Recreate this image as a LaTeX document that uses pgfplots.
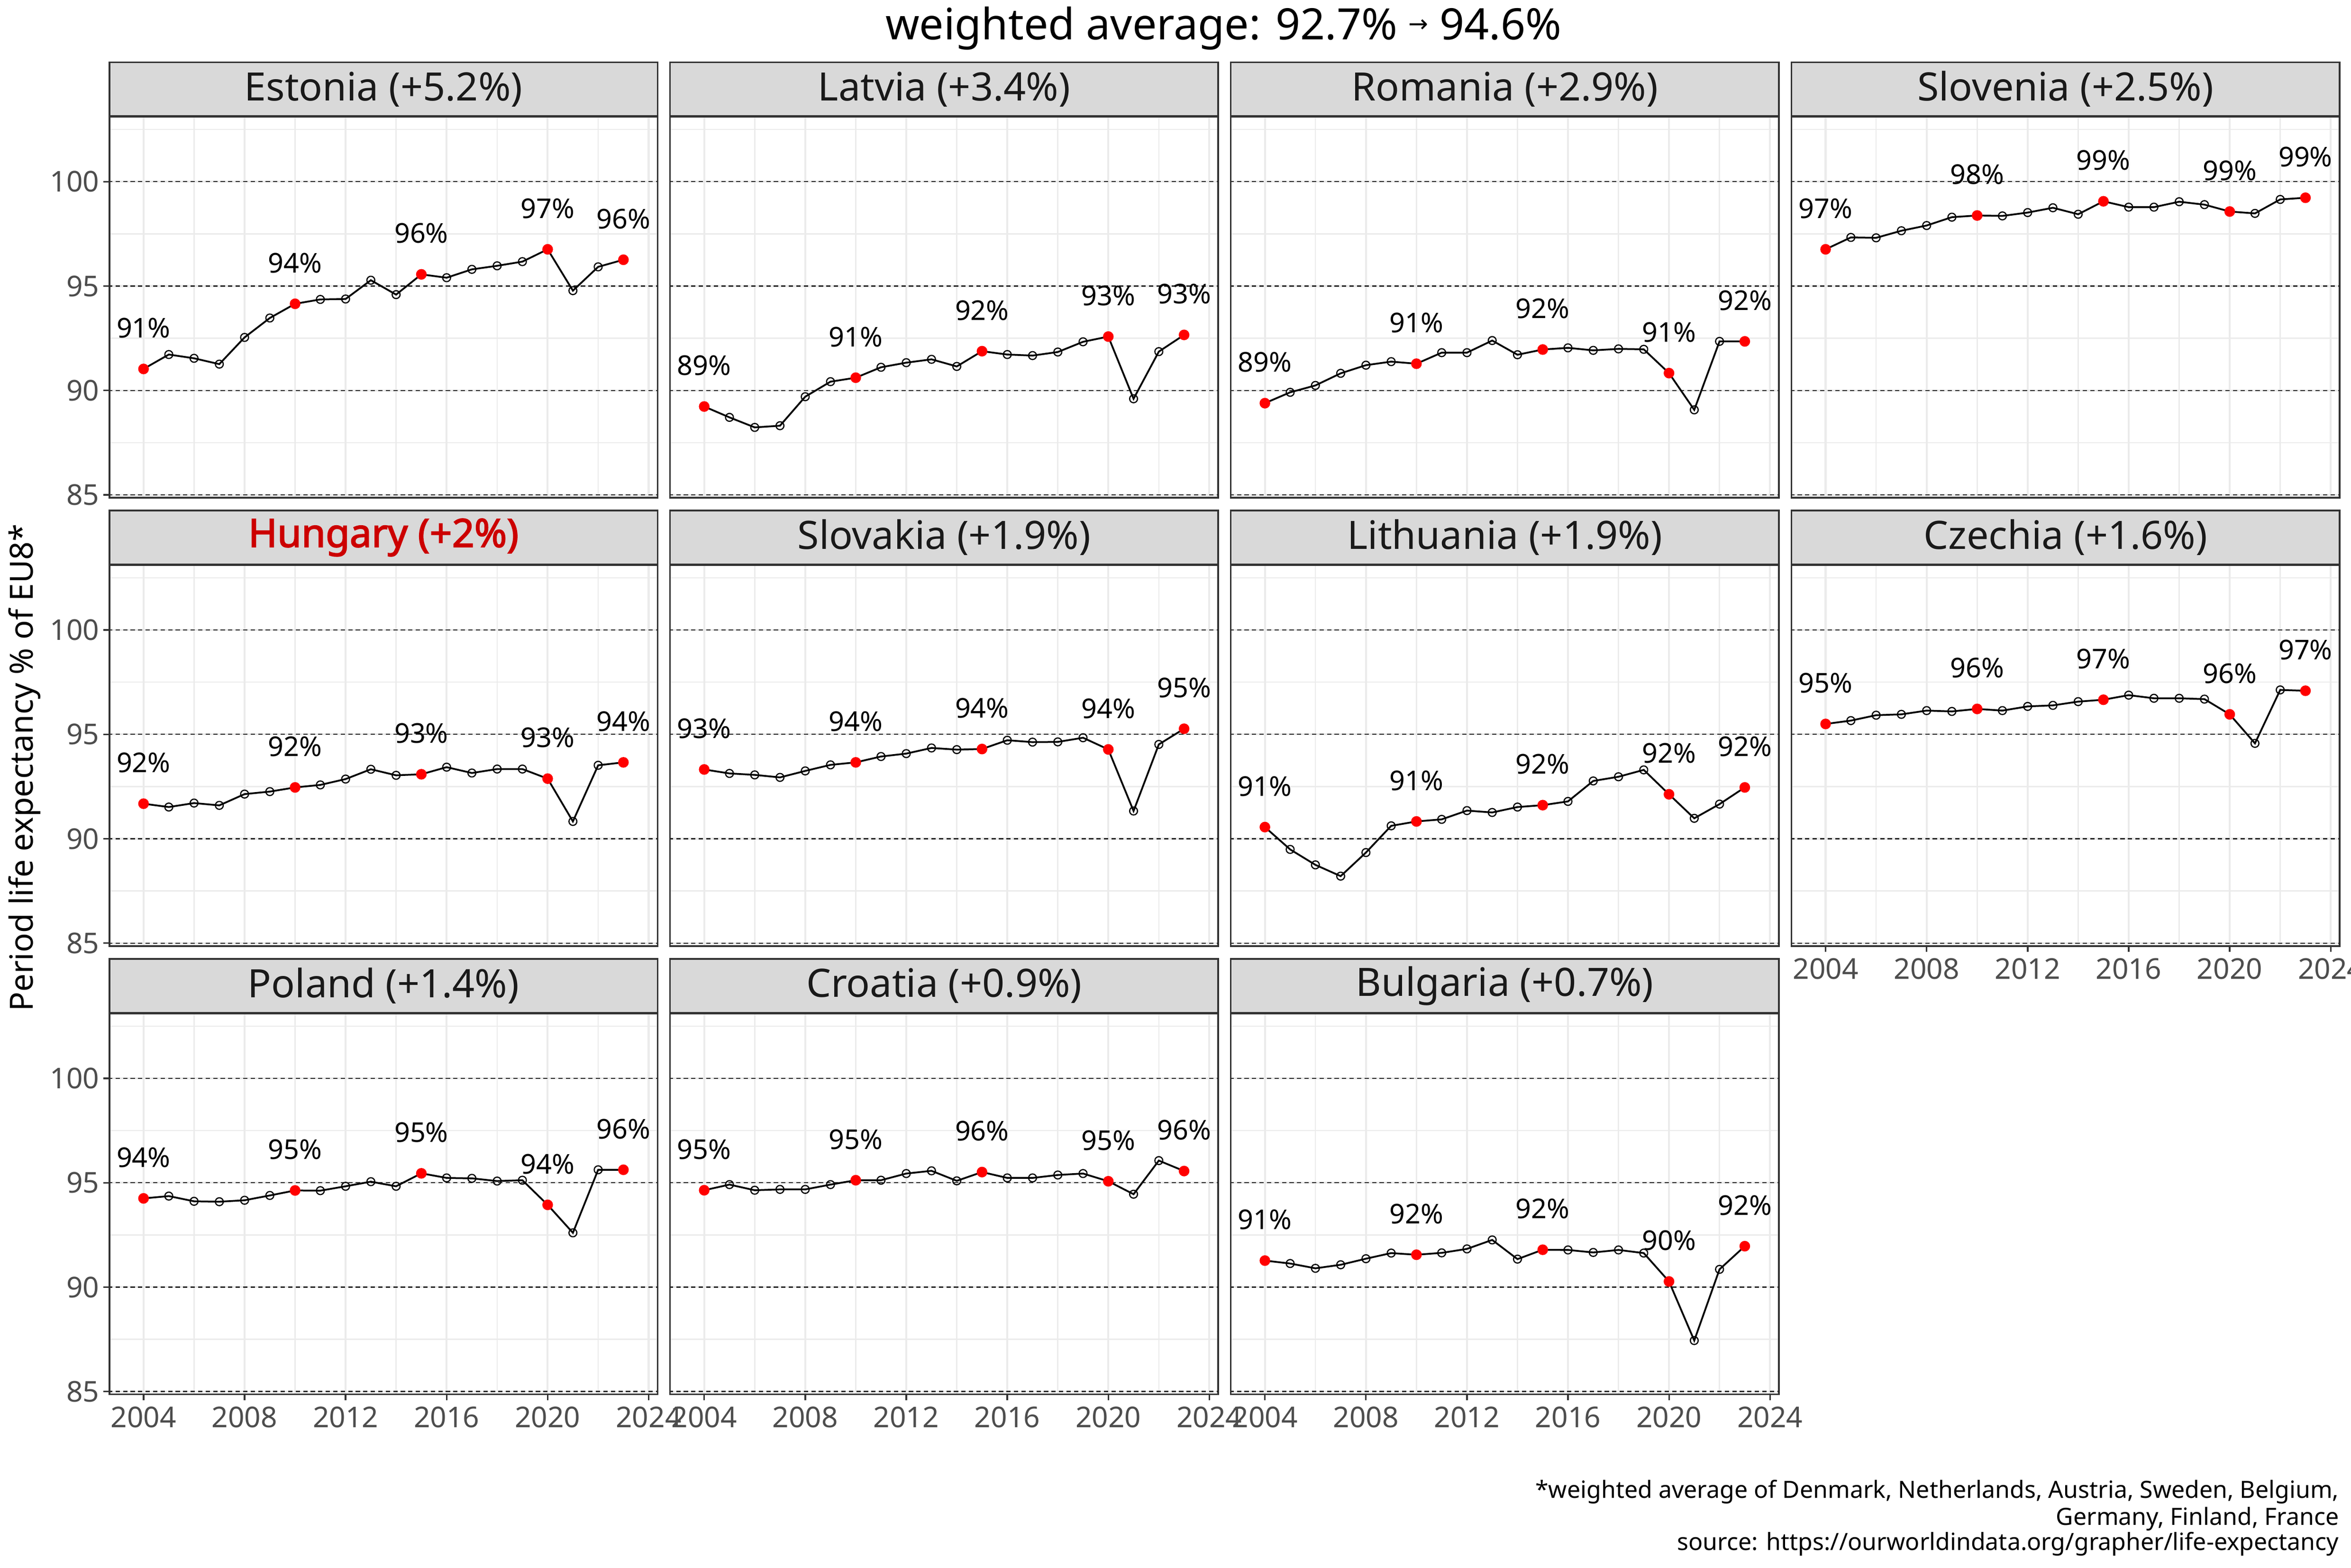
\documentclass[border=0pt]{standalone}
\usepackage{fontspec}
\setmainfont{Noto Sans}
\newfontfamily\djv{DejaVu Sans}
\newfontfamily\fbold{Noto Sans}[FakeBold=2.5]
\usepackage{pgfplots}
\pgfplotsset{compat=1.18}
\usepackage{pgfplotstable}

\definecolor{grey20}{HTML}{333333}
\definecolor{grey30}{HTML}{4D4D4D}
\definecolor{grey85}{HTML}{D9D9D9}
\definecolor{grey92}{HTML}{EBEBEB}
\definecolor{hured}{HTML}{CC0000}
\definecolor{ptred}{HTML}{FF0000}

\newcommand\tickfont{\fontsize{14.5bp}{17bp}\selectfont}
\newcommand\striptext{\fontsize{19.8bp}{23bp}\selectfont}
\newcommand\labtext{\fontsize{13.8bp}{16bp}\selectfont}

% ---------------- data ----------------
\pgfplotstableread{
year val
2004 91.03
2005 91.72
2006 91.54
2007 91.26
2008 92.54
2009 93.47
2010 94.15
2011 94.36
2012 94.38
2013 95.28
2014 94.59
2015 95.56
2016 95.40
2017 95.80
2018 95.97
2019 96.17
2020 96.76
2021 94.78
2022 95.92
2023 96.26
}\estonia
\pgfplotstableread{
year val lab
2004 91.03 91
2010 94.15 94
2015 95.56 96
2020 96.76 97
2023 96.26 96
}\estoniaR

\pgfplotstableread{
year val
2004 89.23
2005 88.71
2006 88.23
2007 88.31
2008 89.70
2009 90.42
2010 90.61
2011 91.11
2012 91.33
2013 91.49
2014 91.15
2015 91.88
2016 91.72
2017 91.67
2018 91.84
2019 92.33
2020 92.58
2021 89.60
2022 91.86
2023 92.66
}\latvia
\pgfplotstableread{
year val lab
2004 89.23 89
2010 90.61 91
2015 91.88 92
2020 92.58 93
2023 92.66 93
}\latviaR

\pgfplotstableread{
year val
2004 89.39
2005 89.91
2006 90.24
2007 90.82
2008 91.21
2009 91.38
2010 91.28
2011 91.81
2012 91.81
2013 92.39
2014 91.71
2015 91.96
2016 92.04
2017 91.92
2018 91.99
2019 91.97
2020 90.83
2021 89.07
2022 92.35
2023 92.35
}\romania
\pgfplotstableread{
year val lab
2004 89.39 89
2010 91.28 91
2015 91.96 92
2020 90.83 91
2023 92.35 92
}\romaniaR

\pgfplotstableread{
year val
2004 96.76
2005 97.33
2006 97.31
2007 97.65
2008 97.90
2009 98.30
2010 98.38
2011 98.36
2012 98.52
2013 98.75
2014 98.44
2015 99.06
2016 98.78
2017 98.78
2018 99.04
2019 98.90
2020 98.57
2021 98.48
2022 99.15
2023 99.23
}\slovenia
\pgfplotstableread{
year val lab
2004 96.76 97
2010 98.38 98
2015 99.06 99
2020 98.57 99
2023 99.23 99
}\sloveniaR

\pgfplotstableread{
year val
2004 91.68
2005 91.52
2006 91.71
2007 91.60
2008 92.14
2009 92.26
2010 92.46
2011 92.58
2012 92.86
2013 93.33
2014 93.04
2015 93.09
2016 93.43
2017 93.15
2018 93.34
2019 93.34
2020 92.88
2021 90.83
2022 93.52
2023 93.66
}\hungary
\pgfplotstableread{
year val lab
2004 91.68 92
2010 92.46 92
2015 93.09 93
2020 92.88 93
2023 93.66 94
}\hungaryR

\pgfplotstableread{
year val
2004 93.32
2005 93.13
2006 93.06
2007 92.94
2008 93.25
2009 93.54
2010 93.66
2011 93.94
2012 94.08
2013 94.35
2014 94.27
2015 94.30
2016 94.72
2017 94.63
2018 94.64
2019 94.84
2020 94.28
2021 91.33
2022 94.52
2023 95.27
}\slovakia
\pgfplotstableread{
year val lab
2004 93.32 93
2010 93.66 94
2015 94.30 94
2020 94.28 94
2023 95.27 95
}\slovakiaR

\pgfplotstableread{
year val
2004 90.56
2005 89.49
2006 88.75
2007 88.21
2008 89.34
2009 90.62
2010 90.83
2011 90.93
2012 91.35
2013 91.26
2014 91.52
2015 91.61
2016 91.79
2017 92.77
2018 92.97
2019 93.30
2020 92.13
2021 90.98
2022 91.66
2023 92.46
}\lithuania
\pgfplotstableread{
year val lab
2004 90.56 91
2010 90.83 91
2015 91.61 92
2020 92.13 92
2023 92.46 92
}\lithuaniaR

\pgfplotstableread{
year val
2004 95.50
2005 95.66
2006 95.92
2007 95.96
2008 96.14
2009 96.10
2010 96.22
2011 96.14
2012 96.34
2013 96.39
2014 96.57
2015 96.66
2016 96.88
2017 96.73
2018 96.73
2019 96.69
2020 95.96
2021 94.57
2022 97.13
2023 97.09
}\czechia
\pgfplotstableread{
year val lab
2004 95.50 95
2010 96.22 96
2015 96.66 97
2020 95.96 96
2023 97.09 97
}\czechiaR

\pgfplotstableread{
year val
2004 94.25
2005 94.36
2006 94.11
2007 94.09
2008 94.16
2009 94.39
2010 94.63
2011 94.62
2012 94.83
2013 95.05
2014 94.83
2015 95.45
2016 95.23
2017 95.21
2018 95.08
2019 95.12
2020 93.94
2021 92.60
2022 95.62
2023 95.62
}\poland
\pgfplotstableread{
year val lab
2004 94.25 94
2010 94.63 95
2015 95.45 95
2020 93.94 94
2023 95.62 96
}\polandR

\pgfplotstableread{
year val
2004 94.64
2005 94.91
2006 94.64
2007 94.68
2008 94.68
2009 94.91
2010 95.12
2011 95.12
2012 95.44
2013 95.57
2014 95.09
2015 95.51
2016 95.23
2017 95.23
2018 95.37
2019 95.44
2020 95.07
2021 94.45
2022 96.06
2023 95.56
}\croatia
\pgfplotstableread{
year val lab
2004 94.64 95
2010 95.12 95
2015 95.51 96
2020 95.07 95
2023 95.56 96
}\croatiaR

\pgfplotstableread{
year val
2004 91.27
2005 91.13
2006 90.90
2007 91.07
2008 91.36
2009 91.63
2010 91.55
2011 91.64
2012 91.83
2013 92.26
2014 91.34
2015 91.79
2016 91.78
2017 91.66
2018 91.78
2019 91.63
2020 90.27
2021 87.44
2022 90.85
2023 91.96
}\bulgaria
\pgfplotstableread{
year val lab
2004 91.27 91
2010 91.55 92
2015 91.79 92
2020 90.27 90
2023 91.96 92
}\bulgariaR

% ---------------- styles ----------------
\pgfplotsset{
  panel/.style={
    scale only axis, width=277.5bp, height=192.8bp, anchor=north west,
    xmin=2002.65, xmax=2024.35, ymin=84.86, ymax=103.1,
    xtick={2004,2008,2012,2016,2020,2024},
    minor xtick={2006,2010,2014,2018,2022},
    ytick={85,90,95,100}, minor ytick={87.5,92.5,97.5,102.5},
    xticklabels={}, yticklabels={},
    grid=both,
    major grid style={draw=grey92, line width=1.0bp},
    minor grid style={draw=grey92, line width=0.6bp},
    axis line style={draw=grey20, line width=0.8bp},
    tick align=outside, tick pos=left,
    major tick length=3bp, minor tick length=0pt,
    tick style={draw=grey20, line width=0.8bp},
    ticklabel style={font=\tickfont, text=grey30},
    xticklabel style={inner sep=0pt, yshift=-3bp},
    yticklabel style={inner sep=0pt, xshift=-2bp},
    every axis title/.style={at={(0.5,1)}, anchor=south, draw=grey20, fill=grey85,
      line width=0.8bp, minimum width=277.5bp, minimum height=27.33bp,
      inner sep=0pt, font=\striptext, text=black!90},
    unbounded coords=jump,
  },
  xlab/.style={xticklabels={2004,2008,2012,2016,2020,2024}},
  noxt/.style={xtick style={draw=none}},
  ylab/.style={yticklabels={85,90,95,100}},
  noyt/.style={ytick style={draw=none}},
  refline/.style={black!85, line width=0.55bp, dash pattern=on 2.2bp off 1.6bp, forget plot},
  seriesline/.style={black, line width=0.9bp, mark=o, mark size=2bp,
    mark options={line width=0.6bp, solid}},
  redpts/.style={only marks, mark=*, mark size=2.5bp, color=ptred,
    mark options={draw=ptred, fill=ptred},
    point meta=explicit symbolic,
    nodes near coords={\pgfplotspointmeta\%},
    nodes near coords style={font=\labtext, text=black, anchor=base,
      inner sep=0pt, yshift=15.8bp}},
}

\newcommand\facet[6]{%
\begin{axis}[panel, at={(#1bp,#2bp)}, title={#3}, #6]
\addplot[refline] coordinates {(2002,85) (2026,85) (2014,nan) (2002,90) (2026,90) (2014,nan) (2002,95) (2026,95) (2014,nan) (2002,100) (2026,100)};
\addplot[seriesline] table[x=year,y=val] {#4};
\addplot[redpts] table[x=year,y=val,meta=lab] {#5};
\end{axis}}

\begin{document}
\begin{tikzpicture}
\useasboundingbox (0bp,0bp) rectangle (1190.4bp,-793.7bp);

% row 1
\facet{55.42}{-59.22}{Estonia (+5.2\%)}{\estonia}{\estoniaR}{ylab, noxt}
\facet{339.3}{-59.22}{Latvia (+3.4\%)}{\latvia}{\latviaR}{noxt, noyt}
\facet{623.2}{-59.22}{Romania (+2.9\%)}{\romania}{\romaniaR}{noxt, noyt}
\facet{907.1}{-59.22}{Slovenia (+2.5\%)}{\slovenia}{\sloveniaR}{noxt, noyt}
% row 2
\facet{55.42}{-286.22}{{\fbold\textcolor{hured}{Hungary (+2\%)}}}{\hungary}{\hungaryR}{ylab, noxt}
\facet{339.3}{-286.22}{Slovakia (+1.9\%)}{\slovakia}{\slovakiaR}{noxt, noyt}
\facet{623.2}{-286.22}{Lithuania (+1.9\%)}{\lithuania}{\lithuaniaR}{noxt, noyt}
\facet{907.1}{-286.22}{Czechia (+1.6\%)}{\czechia}{\czechiaR}{xlab, noyt}
% row 3
\facet{55.42}{-513.22}{Poland (+1.4\%)}{\poland}{\polandR}{ylab, xlab}
\facet{339.3}{-513.22}{Croatia (+0.9\%)}{\croatia}{\croatiaR}{xlab, noyt}
\facet{623.2}{-513.22}{Bulgaria (+0.7\%)}{\bulgaria}{\bulgariaR}{xlab, noyt}

% titles and notes
\node[anchor=center, inner sep=0pt, font=\fontsize{21.9bp}{26bp}\selectfont, text=black]
  at (619.5bp,-14.4bp) {weighted average: 92.7\% \raisebox{4bp}{\fontsize{12bp}{12bp}\djv →} 94.6\%};
\node[anchor=center, inner sep=0pt, rotate=90, font=\fontsize{16.2bp}{19bp}\selectfont, text=black]
  at (12.5bp,-388.7bp) {Period life expectancy \% of EU8*};
\node[anchor=base east, inner sep=0pt, font=\fontsize{12bp}{14bp}\selectfont, text=black]
  at (1184.4bp,-758.4bp) {*weighted average of Denmark, Netherlands, Austria, Sweden, Belgium,};
\node[anchor=base east, inner sep=0pt, font=\fontsize{12bp}{14bp}\selectfont, text=black]
  at (1184.4bp,-772.1bp) {Germany, Finland, France};
\node[anchor=base east, inner sep=0pt, font=\fontsize{12bp}{14bp}\selectfont, text=black]
  at (1184.4bp,-785.0bp) {source: https://ourworldindata.org/grapher/life-expectancy};
\end{tikzpicture}
\end{document}
